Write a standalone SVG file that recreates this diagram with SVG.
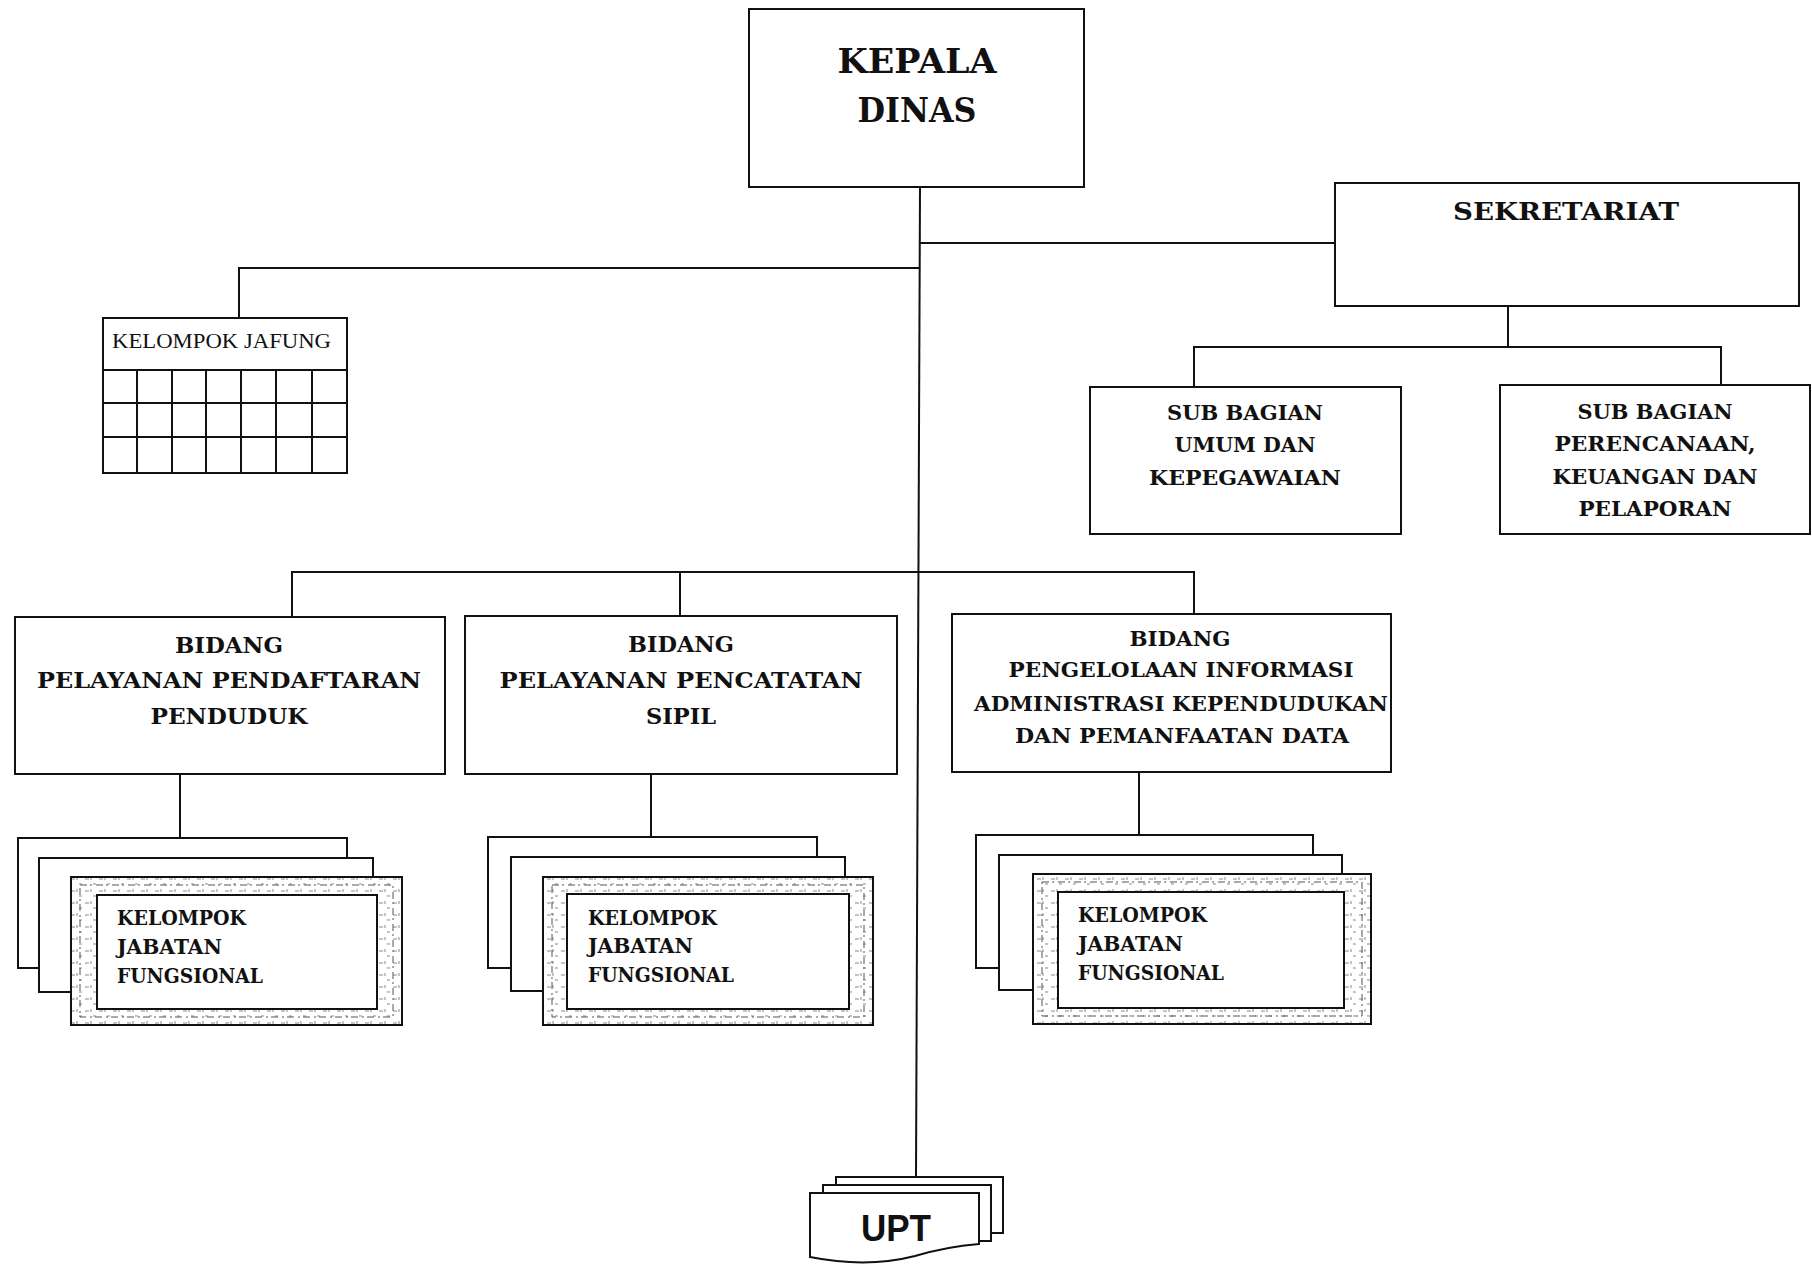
<svg xmlns="http://www.w3.org/2000/svg" width="1812" height="1265" viewBox="0 0 1812 1265">
  <defs>
    <style>
      .box { fill: #ffffff; stroke: #111111; stroke-width: 2; }
      .line { fill: none; stroke: #111111; stroke-width: 2; }
      .grid { fill: none; stroke: #111111; stroke-width: 2; }
      .t { font-family: "DejaVu Serif", "Liberation Serif", serif; font-weight: bold; fill: #111111; text-anchor: middle; }
      .tl { font-family: "DejaVu Serif", "Liberation Serif", serif; font-weight: bold; fill: #111111; text-anchor: start; }
      .reg { font-family: "Liberation Serif", "DejaVu Serif", serif; fill: #111111; }
      .sans { font-family: "Liberation Sans", Arial, sans-serif; font-weight: bold; fill: #111111; text-anchor: middle; }
      .band { fill: url(#stitch); stroke: #111111; stroke-width: 2; }
      .bandline { fill: none; stroke: #555555; stroke-width: 1; stroke-dasharray: 7 3 2 4; }
    </style>
    <!-- speckled ornamental border texture -->
    <pattern id="stitch" width="14" height="12" patternUnits="userSpaceOnUse">
      <rect width="14" height="12" fill="#ffffff"/>
      <path d="M1 3 h4 M9 8 h3 M7 1 v3" stroke="#8a8a8a" stroke-width="1"/>
    </pattern>
  </defs>

  <!-- connectors -->
  <g id="connectors">
    <line class="line" x1="920" y1="187" x2="916" y2="1177"/>
    <polyline class="line" points="920,243 1335,243"/>
    <polyline class="line" points="920,268 239,268 239,318"/>
    <polyline class="line" points="1508,306 1508,347"/>
    <polyline class="line" points="1194,387 1194,347 1721,347 1721,385"/>
    <polyline class="line" points="292,617 292,572 1194,572 1194,614"/>
    <line class="line" x1="680" y1="572" x2="680" y2="616"/>
    <line class="line" x1="180" y1="774" x2="180" y2="838"/>
    <line class="line" x1="651" y1="774" x2="651" y2="837"/>
    <line class="line" x1="1139" y1="772" x2="1139" y2="835"/>
  </g>

  <!-- head of office -->
  <g id="kepala-dinas">
    <rect class="box" x="749" y="9" width="335" height="178"/>
    <text class="t" x="917" y="73" font-size="33" textLength="159" lengthAdjust="spacingAndGlyphs">KEPALA</text>
    <text class="t" x="917" y="122" font-size="33" textLength="119" lengthAdjust="spacingAndGlyphs">DINAS</text>
  </g>

  <!-- secretariat -->
  <g id="sekretariat">
    <rect class="box" x="1335" y="183" width="464" height="123"/>
    <text class="t" x="1566" y="220" font-size="24" textLength="226" lengthAdjust="spacingAndGlyphs">SEKRETARIAT</text>
  </g>

  <g id="sub-bagian-umum">
    <rect class="box" x="1090" y="387" width="311" height="147"/>
    <text class="t" x="1245" y="420" font-size="20" textLength="156" lengthAdjust="spacingAndGlyphs">SUB BAGIAN</text>
    <text class="t" x="1245" y="452" font-size="20" textLength="141" lengthAdjust="spacingAndGlyphs">UMUM DAN</text>
    <text class="t" x="1245" y="485" font-size="20" textLength="192" lengthAdjust="spacingAndGlyphs">KEPEGAWAIAN</text>
  </g>

  <g id="sub-bagian-perencanaan">
    <rect class="box" x="1500" y="385" width="310" height="149"/>
    <text class="t" x="1655" y="419" font-size="20" textLength="155" lengthAdjust="spacingAndGlyphs">SUB BAGIAN</text>
    <text class="t" x="1655" y="451" font-size="20" textLength="201" lengthAdjust="spacingAndGlyphs">PERENCANAAN,</text>
    <text class="t" x="1655" y="484" font-size="20" textLength="205" lengthAdjust="spacingAndGlyphs">KEUANGAN DAN</text>
    <text class="t" x="1655" y="516" font-size="20" textLength="153" lengthAdjust="spacingAndGlyphs">PELAPORAN</text>
  </g>

  <!-- functional group with its grid -->
  <g id="kelompok-jafung">
    <rect class="box" x="103" y="318" width="244" height="155"/>
    <text class="reg" x="112" y="348" font-size="20" textLength="219" lengthAdjust="spacingAndGlyphs">KELOMPOK JAFUNG</text>
    <path class="grid" d="M103 370 H347 M103 403 H347 M103 437 H347
                          M137 370 V473 M172 370 V473 M206 370 V473 M241 370 V473 M276 370 V473 M312 370 V473"/>
  </g>

  <!-- divisions -->
  <g id="bidang-pendaftaran">
    <rect class="box" x="15" y="617" width="430" height="157"/>
    <text class="t" x="229" y="653" font-size="23" textLength="108" lengthAdjust="spacingAndGlyphs">BIDANG</text>
    <text class="t" x="229" y="688" font-size="23" textLength="384" lengthAdjust="spacingAndGlyphs">PELAYANAN PENDAFTARAN</text>
    <text class="t" x="229" y="724" font-size="23" textLength="157" lengthAdjust="spacingAndGlyphs">PENDUDUK</text>
  </g>

  <g id="bidang-pencatatan">
    <rect class="box" x="465" y="616" width="432" height="158"/>
    <text class="t" x="681" y="652" font-size="23" textLength="106" lengthAdjust="spacingAndGlyphs">BIDANG</text>
    <text class="t" x="681" y="688" font-size="23" textLength="363" lengthAdjust="spacingAndGlyphs">PELAYANAN PENCATATAN</text>
    <text class="t" x="681" y="724" font-size="23" textLength="70" lengthAdjust="spacingAndGlyphs">SIPIL</text>
  </g>

  <g id="bidang-informasi">
    <rect class="box" x="952" y="614" width="439" height="158"/>
    <text class="t" x="1180" y="646" font-size="21" textLength="101" lengthAdjust="spacingAndGlyphs">BIDANG</text>
    <text class="t" x="1181" y="677" font-size="21" textLength="345" lengthAdjust="spacingAndGlyphs">PENGELOLAAN INFORMASI</text>
    <text class="t" x="1181" y="711" font-size="21" textLength="414" lengthAdjust="spacingAndGlyphs">ADMINISTRASI KEPENDUDUKAN</text>
    <text class="t" x="1182" y="743" font-size="21" textLength="334" lengthAdjust="spacingAndGlyphs">DAN PEMANFAATAN DATA</text>
  </g>

  <!-- functional position groups under each division -->
  <g id="jabatan-fungsional-1">
    <rect class="box" x="18" y="838" width="329" height="130"/>
    <rect class="box" x="39" y="858" width="334" height="134"/>
    <rect class="band" x="71" y="877" width="331" height="148"/>
    <rect class="bandline" x="80" y="885" width="313" height="132"/>
    <rect class="box" x="97" y="895" width="280" height="114" stroke-width="2.5"/>
    <text class="tl" x="117" y="925" font-size="20" textLength="129" lengthAdjust="spacingAndGlyphs">KELOMPOK</text>
    <text class="tl" x="117" y="954" font-size="20" textLength="105" lengthAdjust="spacingAndGlyphs">JABATAN</text>
    <text class="tl" x="117" y="983" font-size="20" textLength="146" lengthAdjust="spacingAndGlyphs">FUNGSIONAL</text>
  </g>

  <g id="jabatan-fungsional-2">
    <rect class="box" x="488" y="837" width="329" height="131"/>
    <rect class="box" x="511" y="857" width="334" height="134"/>
    <rect class="band" x="543" y="877" width="330" height="148"/>
    <rect class="bandline" x="552" y="885" width="312" height="132"/>
    <rect class="box" x="567" y="894" width="282" height="115" stroke-width="2.5"/>
    <text class="tl" x="588" y="925" font-size="20" textLength="129" lengthAdjust="spacingAndGlyphs">KELOMPOK</text>
    <text class="tl" x="588" y="953" font-size="20" textLength="105" lengthAdjust="spacingAndGlyphs">JABATAN</text>
    <text class="tl" x="588" y="982" font-size="20" textLength="146" lengthAdjust="spacingAndGlyphs">FUNGSIONAL</text>
  </g>

  <g id="jabatan-fungsional-3">
    <rect class="box" x="976" y="835" width="337" height="133"/>
    <rect class="box" x="999" y="855" width="343" height="135"/>
    <rect class="band" x="1033" y="874" width="338" height="150"/>
    <rect class="bandline" x="1042" y="882" width="320" height="134"/>
    <rect class="box" x="1058" y="892" width="286" height="116" stroke-width="2.5"/>
    <text class="tl" x="1078" y="922" font-size="20" textLength="129" lengthAdjust="spacingAndGlyphs">KELOMPOK</text>
    <text class="tl" x="1078" y="951" font-size="20" textLength="105" lengthAdjust="spacingAndGlyphs">JABATAN</text>
    <text class="tl" x="1078" y="980" font-size="20" textLength="146" lengthAdjust="spacingAndGlyphs">FUNGSIONAL</text>
  </g>

  <!-- technical units: stacked document shape -->
  <g id="upt">
    <rect class="box" x="836" y="1177" width="167" height="56"/>
    <rect class="box" x="823" y="1185" width="168" height="56"/>
    <path class="box" d="M810 1193 H979 V1244 C955 1246 935 1250 915 1256 C880 1265 845 1264 810 1257 Z"/>
    <text class="sans" x="896" y="1241" font-size="36" textLength="70" lengthAdjust="spacingAndGlyphs">UPT</text>
  </g>
</svg>
